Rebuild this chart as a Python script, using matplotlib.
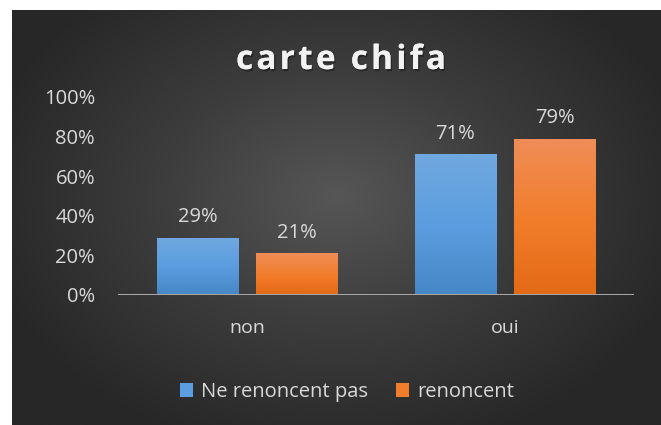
import numpy as np
import matplotlib
matplotlib.use("Agg")
import matplotlib.pyplot as plt
import matplotlib.patheffects as pe
from matplotlib import font_manager as fm
from matplotlib.colors import LinearSegmentedColormap

# Data
title = "carte chifa"
categories = ["non", "oui"]
series_names = ["Ne renoncent pas", "renoncent"]
ne_renoncent_pas = [0.29, 0.71]
renoncent = [0.21, 0.79]
y_ticks = [0.0, 0.2, 0.4, 0.6, 0.8, 1.0]
y_tick_labels = ["0%", "20%", "40%", "60%", "80%", "100%"]

W, H = 661, 425
TEXT = "#d9d9d9"
FONT = "Open Sans"
FS = 14.5

fig = plt.figure(figsize=(W / 100, H / 100), dpi=100)
fig.patch.set_facecolor("white")

# Dark radial background panel
bg = fig.add_axes([12 / W, 0, 1 - 12 / W, 1 - 10 / H])
bg.set_axis_off()
yy, xx = np.mgrid[0:1:300j, 0:1:460j]
r = np.sqrt(((xx - 0.5) / 0.75) ** 2 + ((yy - 0.45) / 0.85) ** 2)
bg_cmap = LinearSegmentedColormap.from_list("bg", ["#565656", "#3c3c3c", "#272727"])
bg.imshow(r, cmap=bg_cmap, vmin=0, vmax=0.75, aspect="auto", extent=[0, 1, 0, 1])

# Plot area
x0, x1 = 118, 634
y0, y1 = 295, 97
ax = fig.add_axes([x0 / W, 1 - y0 / H, (x1 - x0) / W, (y0 - y1) / H])
ax.set_facecolor("none")
ax.set_xlim(-0.5, 1.5)
ax.set_ylim(0, 1.0)

bar_w = 0.314
offset = 0.192
blue_cmap = LinearSegmentedColormap.from_list("blue", ["#4787c6", "#5b9de0", "#70a8df"])
orange_cmap = LinearSegmentedColormap.from_list("orange", ["#e36a16", "#f27e2c", "#ef8d58"])

x = np.arange(len(categories))
grad = np.linspace(0, 1, 100).reshape(-1, 1)
for vals, xs, cmap, name in [
    (ne_renoncent_pas, x - offset, blue_cmap, series_names[0]),
    (renoncent, x + offset, orange_cmap, series_names[1]),
]:
    bars = ax.bar(xs, vals, width=bar_w, color=cmap(0.5), label=name, zorder=2)
    for b, v in zip(bars, vals):
        bx = b.get_x()
        im = ax.imshow(grad, cmap=cmap, aspect="auto", origin="lower",
                       extent=[bx, bx + bar_w, 0, v], zorder=3)
        im.set_clip_path(b)
        ax.annotate(f"{round(v * 100)}%", (b.get_x() + bar_w / 2, v),
                    xytext=(0, 7.5), textcoords="offset points",
                    ha="center", va="bottom", color=TEXT, fontsize=FS,
                    family=FONT)

ax.axhline(0, color="#a6a6a6", lw=2.2, zorder=4)
for s in ax.spines.values():
    s.set_visible(False)
ax.set_xticks(x)
ax.set_xticklabels(categories, color=TEXT, fontsize=FS - 0.5, family=FONT)
ax.set_yticks(y_ticks)
ax.set_yticklabels(y_tick_labels, color=TEXT, fontsize=FS, family=FONT)
ax.tick_params(length=0)
ax.tick_params(axis="x", pad=17)
ax.tick_params(axis="y", pad=16.5)

# Title, letter-spaced by placing each character
title_fs = 24
fp = fm.FontProperties(family=FONT, weight="bold")
ft = fm.get_font(fm.findfont(fp))
ft.set_size(title_fs, 100)
advs = [ft.load_char(ord(c)).linearHoriAdvance / 65536 for c in title]
target_w = 210
gap = (target_w - sum(advs)) / (len(title) - 1)
cx = 341 - target_w / 2
shadow = [pe.withSimplePatchShadow(offset=(1, -1.5), shadow_rgbFace="black", alpha=0.35),
          pe.Normal()]
for c, a in zip(title, advs):
    fig.text((cx + a / 2) / W, 1 - 69 / H, c, ha="center", va="baseline",
             color="#f2f2f2", fontsize=title_fs, fontweight="bold", family=FONT,
             path_effects=shadow)
    cx += a + gap

# Legend
handles, labels = ax.get_legend_handles_labels()
leg = fig.legend(handles, labels, loc="center", bbox_to_anchor=(347 / W, 1 - 392 / H),
                 ncol=2, frameon=False, handlelength=0.65, handleheight=0.65,
                 handletextpad=0.4, columnspacing=1.4,
                 prop={"family": FONT, "size": FS})
for t in leg.get_texts():
    t.set_color(TEXT)

fig.savefig("out.png", dpi=100, facecolor=fig.get_facecolor())
